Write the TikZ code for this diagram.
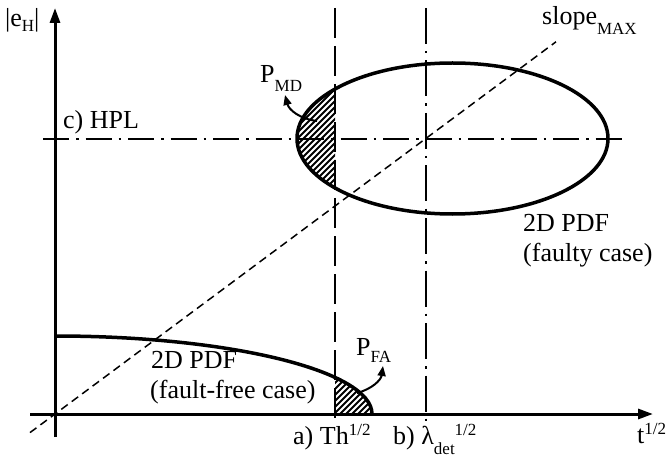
\documentclass[tikz,border=0pt]{standalone}
\usepackage{fontspec}
\setmainfont{Liberation Serif}
\usetikzlibrary{arrows.meta}
\newcommand\sbx[2][9pt]{\raisebox{-#1}{\fontsize{17}{17}\selectfont #2}}
\newcommand\spx[1]{\raisebox{9pt}{\fontsize{17}{17}\selectfont #1}}
\tikzset{
  lbl/.style={anchor=base west,inner sep=0pt,font=\fontsize{26}{31}\selectfont},
  axisline/.style={line width=3pt,-{Triangle[length=15pt,width=10pt]}},
  curveline/.style={line width=3.5pt},
  thdash/.style={line width=2.5pt,dash pattern=on 30pt off 8pt},
  dashdot/.style={line width=2.5pt,dash pattern=on 36pt off 7pt on 2.5pt off 7pt},
  hpldash/.style={line width=2.5pt,dash pattern=on 26pt off 7pt on 2.5pt off 7pt},
  slopedash/.style={line width=1.5pt,dash pattern=on 8pt off 5pt},
  hatch/.style={line width=2pt},
  parrow/.style={line width=2pt,-{Triangle[length=10pt,width=8pt]}}
}
\begin{document}
\begin{tikzpicture}[x=1pt,y=-1pt]
\useasboundingbox (0,0) rectangle (668,462);
% coordinates
\coordinate (xs) at (30,414);
\coordinate (xe) at (653,414);
\coordinate (ys) at (55,437);
\coordinate (ye) at (55,8);
\coordinate (ats) at (335,8);
\coordinate (ate) at (335,424);
\coordinate (bts) at (426,8);
\coordinate (bte) at (426,424);
\coordinate (hs) at (43,139);
\coordinate (he) at (628,139);
\coordinate (ss) at (30,432.6);
\coordinate (se) at (556,41.8);
\coordinate (ec) at (452.5,138.5);
\coordinate (fc) at (55,414);
% hatching faulty
\begin{scope}
  \clip (ec) ellipse [x radius=155.5, y radius=75.5];
  \clip (280,0) rectangle (335,300);
  \foreach \i in {-120,-114,...,120} \draw[hatch] (\i+280,240) -- ++(200,-200);
\end{scope}
% hatching fault-free
\begin{scope}
  \clip (fc) ellipse [x radius=317, y radius=78];
  \clip (335,300) rectangle (390,414);
  \foreach \i in {-120,-114,...,120} \draw[hatch] (\i+340,480) -- ++(200,-200);
\end{scope}
% lines
\draw[slopedash] (ss) -- (se);
\draw[thdash] (ats) -- (ate);
\draw[dashdot] (bts) -- (bte);
\draw[hpldash] (hs) -- (he);
\draw[curveline] (ec) ellipse [x radius=155.5, y radius=75.5];
\begin{scope}
  \clip (55,0) rectangle (668,414);
  \draw[curveline] (fc) ellipse [x radius=317, y radius=78];
\end{scope}
\draw[axisline] (xs) -- (xe);
\draw[axisline] (ys) -- (ye);
% arrows
\coordinate (pmds) at (317,121);
\coordinate (pmde) at (285,95);
\draw[parrow] (pmds) .. controls (300,119) and (289,110) .. (pmde);
\coordinate (pfas) at (357,393);
\coordinate (pfae) at (383,366);
\draw[parrow] (pfas) .. controls (372,389) and (381,380) .. (pfae);
% labels
\node[lbl] (leh) at (5,27) {|e\sbx[5pt]{H}|};
\node[lbl] (lslope) at (542,25) {slope\sbx[10pt]{MAX}};
\node[lbl] (lhpl) at (63,129) {c) HPL};
\node[lbl] (lpmd) at (260,83) {P\sbx{MD}};
\node[lbl] (lpfa) at (356,355) {P\sbx[7pt]{FA}};
\node[lbl] (lf1) at (523,231) {2D PDF};
\node[lbl] (lf2) at (523,261) {(faulty case)};
\node[lbl] (lff1) at (151,368) {2D PDF};
\node[lbl] (lff2) at (150,398) {(fault-free case)};
\node[lbl] (la) at (293,444) {a) Th\spx{1/2}};
\node[lbl] (lb) at (393,444) {b) λ\sbx[10pt]{det}\spx{1/2}};
\node[lbl] (lt) at (637,443) {t\spx{1/2}};
\end{tikzpicture}
\end{document}
